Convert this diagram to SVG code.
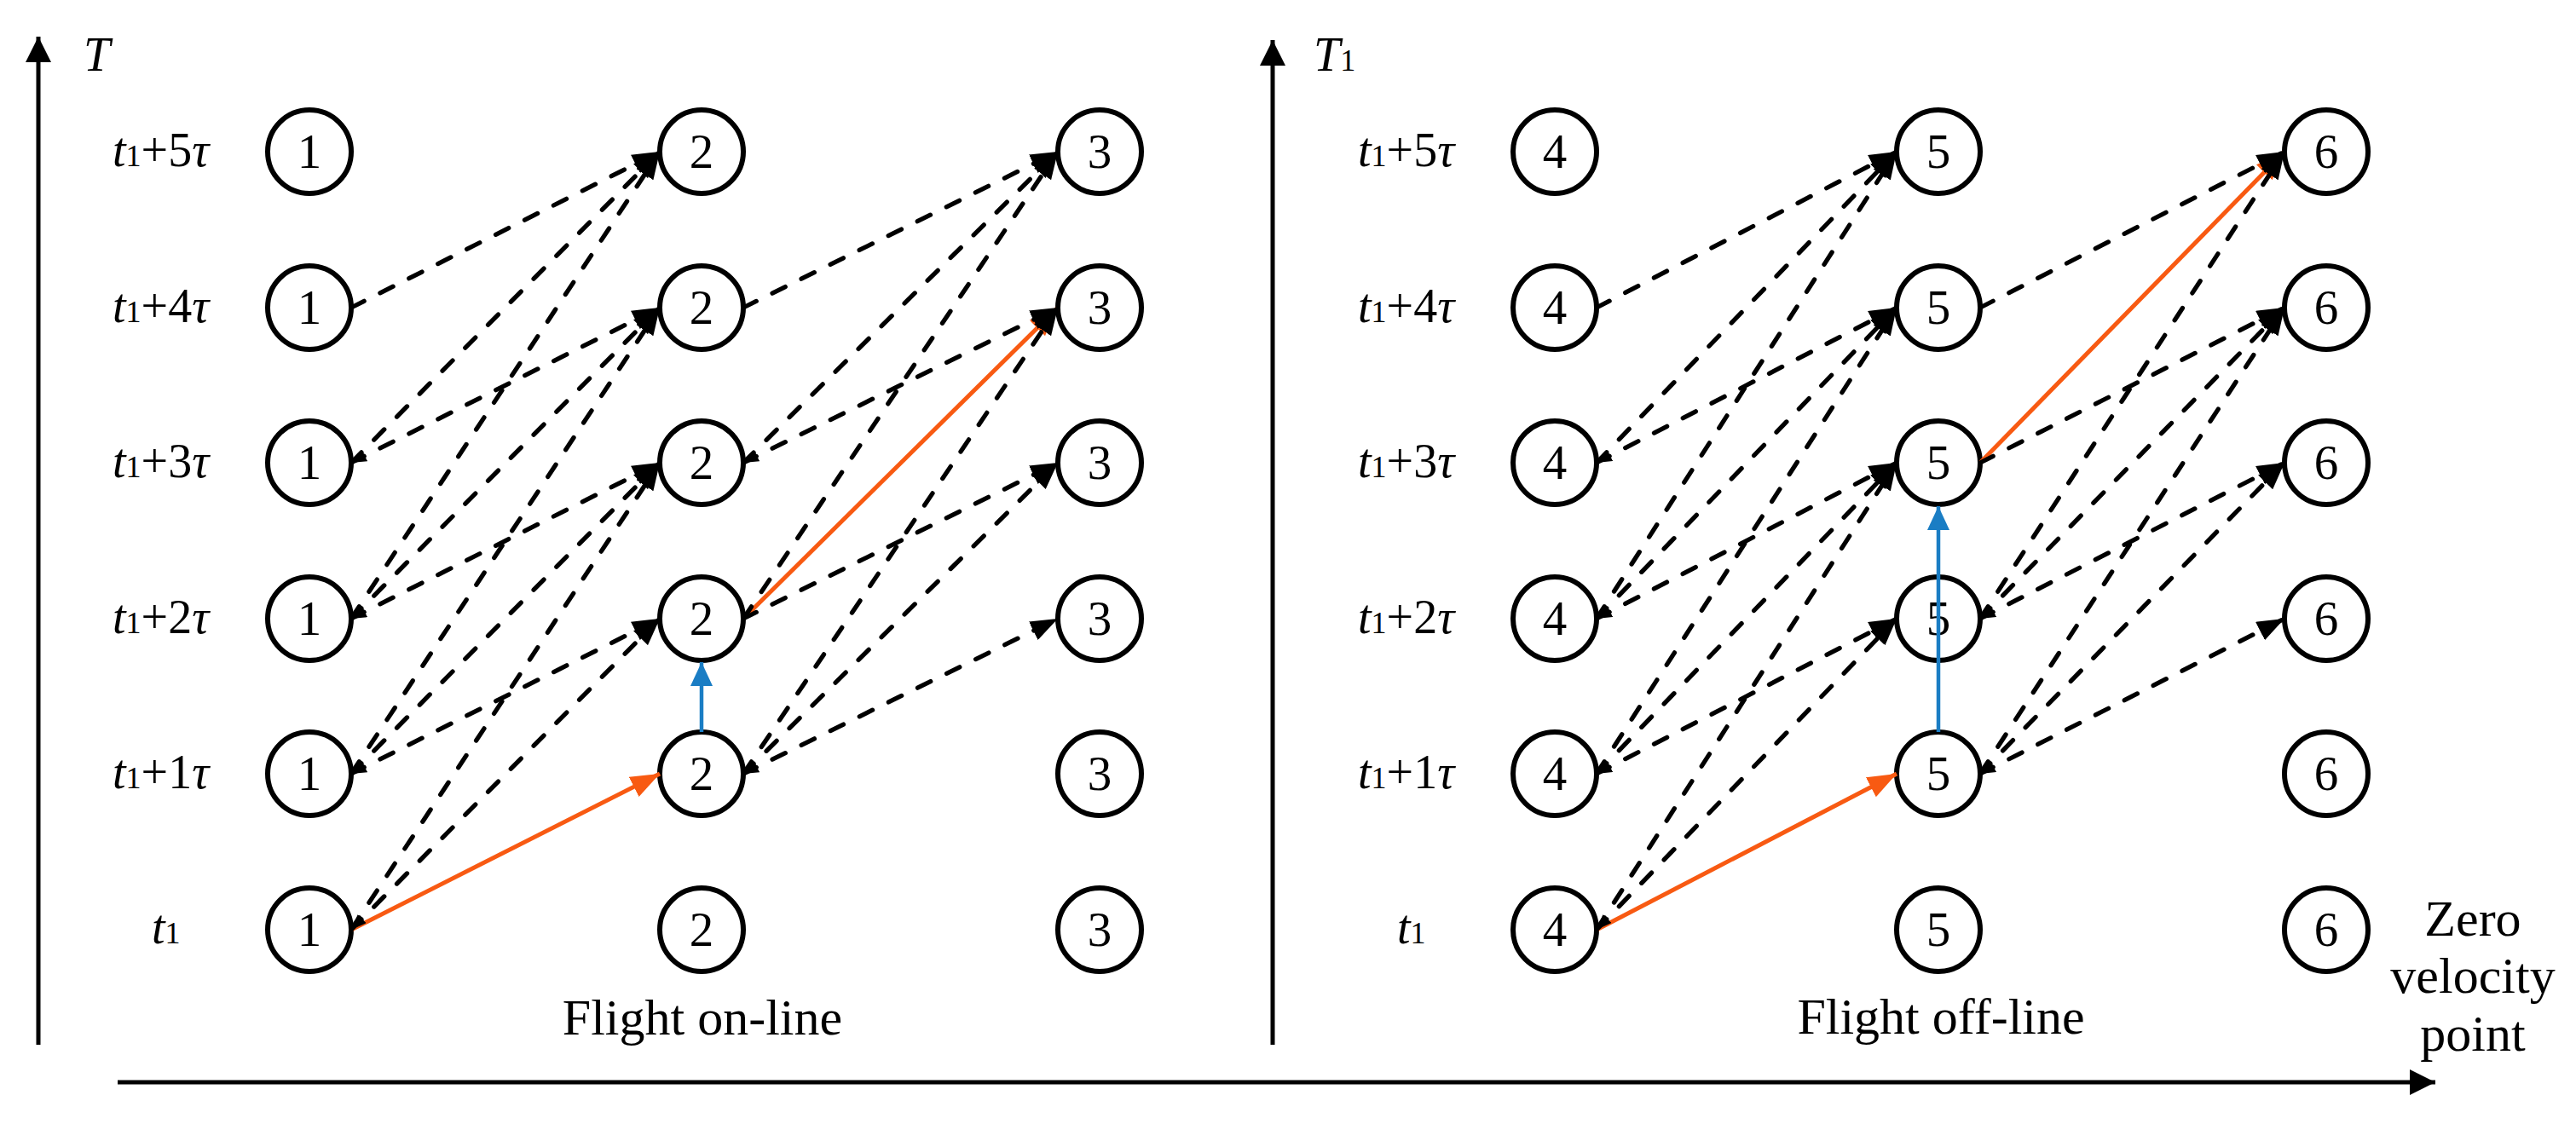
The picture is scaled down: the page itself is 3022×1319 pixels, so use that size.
<svg xmlns="http://www.w3.org/2000/svg" width="3022" height="1319" viewBox="0 0 3022 1319">
<style>
.bg{fill:#fff}
.nd circle{fill:#fff;stroke:#000;stroke-width:6}
.nd text{font-family:"Liberation Serif","Times New Roman",serif;font-size:57px;text-anchor:middle;fill:#000}
.lbl{font-family:"Liberation Serif","Times New Roman",serif;font-size:56px;fill:#000}
.lbl .i{font-style:italic}
.lbl .s{font-size:36px}
.cap{font-family:"Liberation Serif","Times New Roman",serif;font-size:60px;fill:#000;text-anchor:middle}
.axis{stroke:#000;stroke-width:5;fill:none}
.d{stroke:#000;stroke-width:5.3;stroke-linecap:round;stroke-dasharray:17 21;fill:none;marker-end:url(#ah)}
.ds{marker-start:url(#as)}
.o{stroke:#F85A12;stroke-width:5;fill:none;marker-end:url(#ao)}
.b{stroke:#1A7DC4;stroke-width:4.5;fill:none;marker-end:url(#ab)}
</style>
<defs>
<marker id="ah" markerUnits="userSpaceOnUse" viewBox="0 0 32 24" refX="32" refY="12" markerWidth="32" markerHeight="24" orient="auto"><path d="M0,0 L32,12 L0,24 z" fill="#000"/></marker>
<marker id="as" markerUnits="userSpaceOnUse" viewBox="0 0 18 14" refX="18" refY="7" markerWidth="18" markerHeight="14" orient="auto-start-reverse"><path d="M0,0 L18,7 L0,14 z" fill="#000"/></marker>
<marker id="ao" markerUnits="userSpaceOnUse" viewBox="0 0 34 26" refX="34" refY="13" markerWidth="34" markerHeight="26" orient="auto"><path d="M0,0 L34,13 L0,26 z" fill="#F85A12"/></marker>
<marker id="ab" markerUnits="userSpaceOnUse" viewBox="0 0 28 26" refX="28" refY="13" markerWidth="28" markerHeight="26" orient="auto"><path d="M0,0 L28,13 L0,26 z" fill="#1A7DC4"/></marker>
<marker id="ax" markerUnits="userSpaceOnUse" viewBox="0 0 30 30" refX="30" refY="15" markerWidth="30" markerHeight="30" orient="auto"><path d="M0,0 L30,15 L0,30 z" fill="#000"/></marker>
</defs>
<rect class="bg" x="0" y="0" width="3022" height="1319"/>

<g id="axes">
<line class="axis" x1="45" y1="1226" x2="45" y2="43" marker-end="url(#ax)"/>
<line class="axis" x1="1493" y1="1226" x2="1493" y2="47" marker-end="url(#ax)"/>
<line class="axis" x1="138" y1="1270" x2="2857" y2="1270" marker-end="url(#ax)"/>
<text class="lbl" x="98" y="83"><tspan class="i">T</tspan></text>
<text class="lbl" x="1541" y="83"><tspan class="i">T</tspan><tspan class="s">1</tspan></text>
</g>

<g id="row-labels">
<text class="lbl" x="132" y="195"><tspan class="i">t</tspan><tspan class="s">1</tspan>+5<tspan class="i">τ</tspan></text>
<text class="lbl" x="132" y="378"><tspan class="i">t</tspan><tspan class="s">1</tspan>+4<tspan class="i">τ</tspan></text>
<text class="lbl" x="132" y="560"><tspan class="i">t</tspan><tspan class="s">1</tspan>+3<tspan class="i">τ</tspan></text>
<text class="lbl" x="132" y="743"><tspan class="i">t</tspan><tspan class="s">1</tspan>+2<tspan class="i">τ</tspan></text>
<text class="lbl" x="132" y="925"><tspan class="i">t</tspan><tspan class="s">1</tspan>+1<tspan class="i">τ</tspan></text>
<text class="lbl" x="178" y="1107"><tspan class="i">t</tspan><tspan class="s">1</tspan></text>
<text class="lbl" x="1593" y="195"><tspan class="i">t</tspan><tspan class="s">1</tspan>+5<tspan class="i">τ</tspan></text>
<text class="lbl" x="1593" y="378"><tspan class="i">t</tspan><tspan class="s">1</tspan>+4<tspan class="i">τ</tspan></text>
<text class="lbl" x="1593" y="560"><tspan class="i">t</tspan><tspan class="s">1</tspan>+3<tspan class="i">τ</tspan></text>
<text class="lbl" x="1593" y="743"><tspan class="i">t</tspan><tspan class="s">1</tspan>+2<tspan class="i">τ</tspan></text>
<text class="lbl" x="1593" y="925"><tspan class="i">t</tspan><tspan class="s">1</tspan>+1<tspan class="i">τ</tspan></text>
<text class="lbl" x="1639" y="1107"><tspan class="i">t</tspan><tspan class="s">1</tspan></text>
</g>

<g id="captions">
<text class="cap" x="824" y="1214">Flight on-line</text>
<text class="cap" x="2277" y="1213">Flight off-line</text>
<text class="cap" x="2901" y="1098">Zero</text>
<text class="cap" x="2901" y="1165">velocity</text>
<text class="cap" x="2901" y="1233">point</text>
</g>

<g id="node-1-r5" class="nd"><circle cx="363" cy="178" r="49"/><text x="363" y="197">1</text></g>
<g id="node-1-r4" class="nd"><circle cx="363" cy="361" r="49"/><text x="363" y="380">1</text></g>
<g id="node-1-r3" class="nd"><circle cx="363" cy="543" r="49"/><text x="363" y="562">1</text></g>
<g id="node-1-r2" class="nd"><circle cx="363" cy="726" r="49"/><text x="363" y="745">1</text></g>
<g id="node-1-r1" class="nd"><circle cx="363" cy="908" r="49"/><text x="363" y="927">1</text></g>
<g id="node-1-r0" class="nd"><circle cx="363" cy="1091" r="49"/><text x="363" y="1110">1</text></g>

<g id="node-2-r5" class="nd"><circle cx="823" cy="178" r="49"/><text x="823" y="197">2</text></g>
<g id="node-2-r4" class="nd"><circle cx="823" cy="361" r="49"/><text x="823" y="380">2</text></g>
<g id="node-2-r3" class="nd"><circle cx="823" cy="543" r="49"/><text x="823" y="562">2</text></g>
<g id="node-2-r2" class="nd"><circle cx="823" cy="726" r="49"/><text x="823" y="745">2</text></g>
<g id="node-2-r1" class="nd"><circle cx="823" cy="908" r="49"/><text x="823" y="927">2</text></g>
<g id="node-2-r0" class="nd"><circle cx="823" cy="1091" r="49"/><text x="823" y="1110">2</text></g>

<g id="node-3-r5" class="nd"><circle cx="1290" cy="178" r="49"/><text x="1290" y="197">3</text></g>
<g id="node-3-r4" class="nd"><circle cx="1290" cy="361" r="49"/><text x="1290" y="380">3</text></g>
<g id="node-3-r3" class="nd"><circle cx="1290" cy="543" r="49"/><text x="1290" y="562">3</text></g>
<g id="node-3-r2" class="nd"><circle cx="1290" cy="726" r="49"/><text x="1290" y="745">3</text></g>
<g id="node-3-r1" class="nd"><circle cx="1290" cy="908" r="49"/><text x="1290" y="927">3</text></g>
<g id="node-3-r0" class="nd"><circle cx="1290" cy="1091" r="49"/><text x="1290" y="1110">3</text></g>

<g id="node-4-r5" class="nd"><circle cx="1824" cy="178" r="49"/><text x="1824" y="197">4</text></g>
<g id="node-4-r4" class="nd"><circle cx="1824" cy="361" r="49"/><text x="1824" y="380">4</text></g>
<g id="node-4-r3" class="nd"><circle cx="1824" cy="543" r="49"/><text x="1824" y="562">4</text></g>
<g id="node-4-r2" class="nd"><circle cx="1824" cy="726" r="49"/><text x="1824" y="745">4</text></g>
<g id="node-4-r1" class="nd"><circle cx="1824" cy="908" r="49"/><text x="1824" y="927">4</text></g>
<g id="node-4-r0" class="nd"><circle cx="1824" cy="1091" r="49"/><text x="1824" y="1110">4</text></g>

<g id="node-5-r5" class="nd"><circle cx="2274" cy="178" r="49"/><text x="2274" y="197">5</text></g>
<g id="node-5-r4" class="nd"><circle cx="2274" cy="361" r="49"/><text x="2274" y="380">5</text></g>
<g id="node-5-r3" class="nd"><circle cx="2274" cy="543" r="49"/><text x="2274" y="562">5</text></g>
<g id="node-5-r2" class="nd"><circle cx="2274" cy="726" r="49"/><text x="2274" y="745">5</text></g>
<g id="node-5-r1" class="nd"><circle cx="2274" cy="908" r="49"/><text x="2274" y="927">5</text></g>
<g id="node-5-r0" class="nd"><circle cx="2274" cy="1091" r="49"/><text x="2274" y="1110">5</text></g>

<g id="node-6-r5" class="nd"><circle cx="2729" cy="178" r="49"/><text x="2729" y="197">6</text></g>
<g id="node-6-r4" class="nd"><circle cx="2729" cy="361" r="49"/><text x="2729" y="380">6</text></g>
<g id="node-6-r3" class="nd"><circle cx="2729" cy="543" r="49"/><text x="2729" y="562">6</text></g>
<g id="node-6-r2" class="nd"><circle cx="2729" cy="726" r="49"/><text x="2729" y="745">6</text></g>
<g id="node-6-r1" class="nd"><circle cx="2729" cy="908" r="49"/><text x="2729" y="927">6</text></g>
<g id="node-6-r0" class="nd"><circle cx="2729" cy="1091" r="49"/><text x="2729" y="1110">6</text></g>

<g id="connectors">
<!-- orange paths -->
<line class="o" x1="412" y1="1091" x2="774" y2="908"/>
<line class="o" x1="872" y1="726" x2="1241" y2="361"/>
<line class="o" x1="1873" y1="1091" x2="2225" y2="908"/>
<line class="o" x1="2323" y1="543" x2="2680" y2="178"/>
<!-- 1 -> 2 -->
<line class="d ds" x1="412" y1="1091" x2="774" y2="726"/>
<line class="d" x1="412" y1="1091" x2="774" y2="543"/>
<line class="d ds" x1="412" y1="908" x2="774" y2="726"/>
<line class="d" x1="412" y1="908" x2="774" y2="543"/>
<line class="d" x1="412" y1="908" x2="774" y2="361"/>
<line class="d ds" x1="412" y1="726" x2="774" y2="543"/>
<line class="d" x1="412" y1="726" x2="774" y2="361"/>
<line class="d" x1="412" y1="726" x2="774" y2="178"/>
<line class="d ds" x1="412" y1="543" x2="774" y2="361"/>
<line class="d" x1="412" y1="543" x2="774" y2="178"/>
<line class="d" x1="412" y1="361" x2="774" y2="178"/>
<!-- 2 -> 3 -->
<line class="d ds" x1="872" y1="908" x2="1241" y2="726"/>
<line class="d" x1="872" y1="908" x2="1241" y2="543"/>
<line class="d" x1="872" y1="908" x2="1241" y2="361"/>
<line class="d" x1="872" y1="726" x2="1241" y2="543"/>
<line class="d" x1="872" y1="726" x2="1241" y2="178"/>
<line class="d ds" x1="872" y1="543" x2="1241" y2="361"/>
<line class="d" x1="872" y1="543" x2="1241" y2="178"/>
<line class="d" x1="872" y1="361" x2="1241" y2="178"/>
<!-- 4 -> 5 -->
<line class="d ds" x1="1873" y1="1091" x2="2225" y2="726"/>
<line class="d" x1="1873" y1="1091" x2="2225" y2="543"/>
<line class="d ds" x1="1873" y1="908" x2="2225" y2="726"/>
<line class="d" x1="1873" y1="908" x2="2225" y2="543"/>
<line class="d" x1="1873" y1="908" x2="2225" y2="361"/>
<line class="d ds" x1="1873" y1="726" x2="2225" y2="543"/>
<line class="d" x1="1873" y1="726" x2="2225" y2="361"/>
<line class="d" x1="1873" y1="726" x2="2225" y2="178"/>
<line class="d ds" x1="1873" y1="543" x2="2225" y2="361"/>
<line class="d" x1="1873" y1="543" x2="2225" y2="178"/>
<line class="d" x1="1873" y1="361" x2="2225" y2="178"/>
<!-- 5 -> 6 -->
<line class="d ds" x1="2323" y1="908" x2="2680" y2="726"/>
<line class="d" x1="2323" y1="908" x2="2680" y2="543"/>
<line class="d" x1="2323" y1="908" x2="2680" y2="361"/>
<line class="d ds" x1="2323" y1="726" x2="2680" y2="543"/>
<line class="d" x1="2323" y1="726" x2="2680" y2="361"/>
<line class="d" x1="2323" y1="726" x2="2680" y2="178"/>
<line class="d" x1="2323" y1="543" x2="2680" y2="361"/>
<line class="d" x1="2323" y1="361" x2="2680" y2="178"/>
<!-- blue vertical transitions -->
<line class="b" x1="823" y1="859" x2="823" y2="777"/>
<line class="b" x1="2274" y1="859" x2="2274" y2="594"/>
</g>
</svg>
